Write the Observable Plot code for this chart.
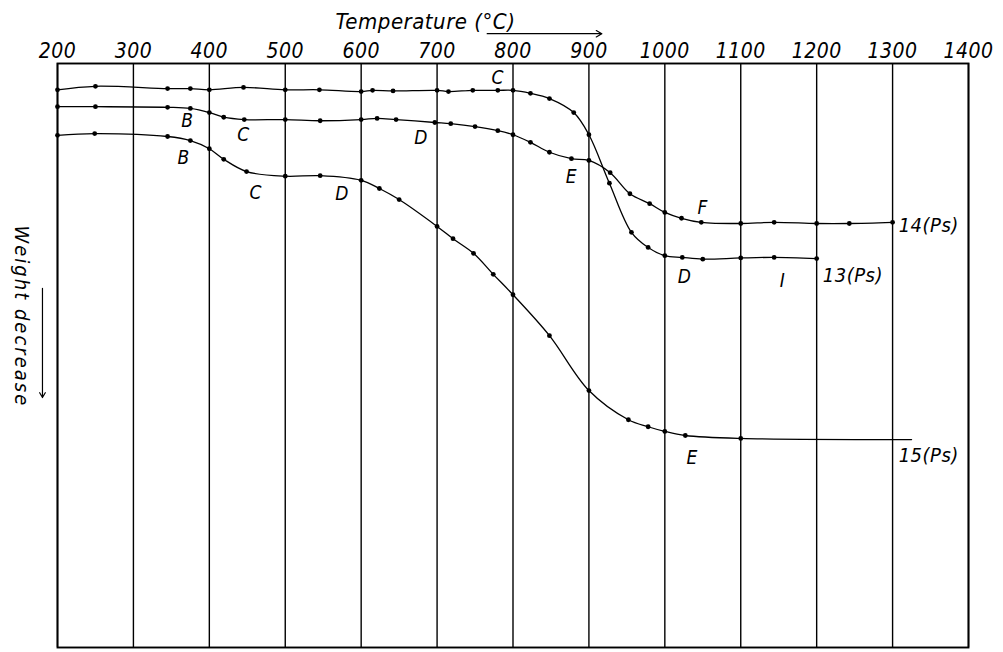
<!DOCTYPE html>
<html>
<head>
<meta charset="utf-8">
<script src="https://cdn.jsdelivr.net/npm/d3@7"></script>
<script src="https://cdn.jsdelivr.net/npm/@observablehq/plot@0.6"></script>
<style>
  html, body { margin: 0; padding: 0; background: white; }
  #chart svg { display: block; }
</style>
</head>
<body>
<div id="chart"></div>
<script>
// Temperature ticks (°C)
const xTicks = [200, 300, 400, 500, 600, 700, 800, 900, 1000, 1100, 1200, 1300, 1400];

// Curve 13(Ps): temperature, weight decrease (arbitrary units)
const t13 = [200, 250, 345, 375, 400, 445, 500, 545, 600, 615, 642, 700, 715, 747, 780, 800, 823, 848, 880, 900, 927, 956, 978, 1000, 1023, 1050, 1100, 1144, 1200];
const w13 = [4.5, 3.9, 4.3, 4.3, 4.5, 4.1, 4.5, 4.5, 4.8, 4.6, 4.7, 4.6, 4.8, 4.6, 4.6, 4.6, 5.1, 6.0, 8.4, 12.2, 20.5, 28.9, 31.5, 32.9, 33.2, 33.5, 33.3, 33.2, 33.4];

// Curve 14(Ps)
const t14 = [200, 250, 345, 375, 400, 419, 446, 500, 546, 600, 621, 646, 697, 718, 750, 780, 800, 823, 848, 877, 900, 928, 954, 980, 1000, 1022, 1048, 1100, 1144, 1200, 1243, 1300];
const w14 = [7.4, 7.4, 7.5, 7.7, 8.4, 9.2, 9.6, 9.6, 9.8, 9.6, 9.4, 9.6, 10.1, 10.3, 10.8, 11.5, 12.2, 13.5, 15.2, 16.3, 16.6, 18.7, 22.3, 24.0, 25.5, 26.5, 27.2, 27.4, 27.2, 27.4, 27.4, 27.2];

// Curve 15(Ps)
const t15 = [200, 249, 345, 375, 400, 419, 449, 500, 546, 600, 624, 650, 700, 721, 748, 774, 800, 848, 900, 952, 978, 1000, 1027, 1100, 1325];
const w15 = [12.3, 12.0, 12.5, 13.2, 14.6, 16.4, 18.5, 19.3, 19.2, 20.0, 21.4, 23.3, 27.9, 30.0, 32.5, 36.1, 39.6, 46.6, 56.0, 61.0, 62.2, 63.0, 63.7, 64.2, 64.4];
const d15 = [1, 1, 1, 1, 1, 1, 1, 1, 1, 1, 1, 1, 1, 1, 1, 1, 1, 1, 1, 1, 1, 1, 1, 1, 0];

// Point labels on the curves
const labText = ["C", "D", "I", "13(Ps)", "B", "C", "D", "E", "F", "14(Ps)", "B", "C", "D", "E", "15(Ps)"];
const labT    = [780, 1026, 1155, 1208, 371, 445, 679, 877, 1050, 1308, 366, 461, 575, 1036, 1308];
const labW    = [2.4, 36.5, 37.2, 36.3, 9.9, 12.3, 12.7, 19.5, 24.7, 27.7, 16.1, 22.1, 22.3, 67.5, 67.1];
const labAnchor = ["middle", "middle", "middle", "start", "middle", "middle", "middle", "middle", "middle", "start", "middle", "middle", "middle", "middle", "start"];

const rows = [];
t13.forEach((t, i) => rows.push({series: "13", T: t, W: w13[i], dot: true}));
t14.forEach((t, i) => rows.push({series: "14", T: t, W: w14[i], dot: true}));
t15.forEach((t, i) => rows.push({series: "15", T: t, W: w15[i], dot: !!d15[i]}));
const labels = labText.map((s, i) => ({text: s, T: labT[i], W: labW[i], anchor: labAnchor[i]}));

const FONT = '"DejaVu Sans Condensed", "Liberation Sans Narrow", "DejaVu Sans", sans-serif';

const chart = Plot.plot({
  width: 1003,
  height: 652,
  marginLeft: 57,
  marginRight: 35,
  marginTop: 63,
  marginBottom: 5,
  x: {domain: [200, 1400], axis: null},
  y: {domain: [0, 100], reverse: true, axis: null},
  style: {fontFamily: FONT, fontStyle: "italic", background: "white", color: "black"},
  marks: [
    Plot.ruleX(xTicks, {stroke: "black", strokeWidth: 1.4}),
    Plot.frame({stroke: "black", strokeWidth: 1.9}),
    Plot.line(rows, {x: "T", y: "W", z: "series", curve: "catmull-rom", stroke: "black", strokeWidth: 1.3}),
    Plot.dot(rows.filter(d => d.dot), {x: "T", y: "W", r: 2.4, fill: "black"}),
    Plot.text(labels.filter(d => d.anchor === "middle"), {x: "T", y: "W", text: "text", fontSize: 19, textAnchor: "middle", fill: "black"}),
    Plot.text(labels.filter(d => d.anchor === "start"), {x: "T", y: "W", text: "text", fontSize: 20, textAnchor: "start", fill: "black"}),
    Plot.axisX({anchor: "top", ticks: xTicks, tickSize: 0, tickPadding: 6, fontSize: 21, tickFormat: d => String(d), label: null}),
    // axis titles
    Plot.text(["Temperature (°C)"], {frameAnchor: "top-left", dx: 278, dy: -35, textAnchor: "start", lineAnchor: "bottom", fontSize: 22, fill: "black"}),
    Plot.arrow([{x1: 766, x2: 917, y: -5.1}], {x1: "x1", x2: "x2", y1: "y", y2: "y", stroke: "black", strokeWidth: 1.2, headLength: 8}),
    Plot.text(["Weight decrease"], {x: 152.6, y: 43.3, rotate: 90, fontSize: 20, fill: "black"}),
    Plot.arrow([{x: 180.2, y1: 38.5, y2: 57.2}], {x1: "x", x2: "x", y1: "y1", y2: "y2", stroke: "black", strokeWidth: 1.2, headLength: 7})
  ]
});
chart.querySelectorAll("text").forEach(t => t.setAttribute("letter-spacing", "0.5"));
const ylab = Array.from(chart.querySelectorAll("text")).find(t => t.textContent === "Weight decrease");
if (ylab) ylab.setAttribute("letter-spacing", "2");
document.getElementById("chart").append(chart);
</script>
</body>
</html>
